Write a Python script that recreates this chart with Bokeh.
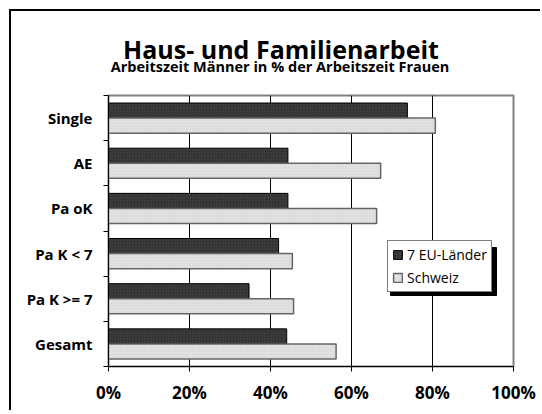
from bokeh.plotting import figure
from bokeh.layouts import column
from bokeh.models import (ColumnDataSource, FixedTicker, Legend, LegendItem, Label,
                          BoxAnnotation, PrintfTickFormatter, Range1d)
from bokeh.transform import dodge
from bokeh.embed import file_html
from bokeh.resources import INLINE

# ---- data ----
categories = ["Single", "AE", "Pa oK", "Pa K < 7", "Pa K >= 7", "Gesamt"]
eu7 = [73.8, 44.3, 44.3, 42.0, 34.7, 44.0]
schweiz = [80.7, 67.2, 66.2, 45.4, 45.7, 56.2]
series_names = ["7 EU-Länder", "Schweiz"]
x_ticks = [0, 20, 40, 60, 80, 100]
title_text = "Haus- und Familienarbeit"
subtitle_text = "Arbeitszeit Männer in % der Arbeitszeit Frauen"

FONT = "Open Sans"
W = 529
HEAD_H = 83
BL, BR = 97, 27          # left / right borders shared by both figures
FW = W - BL - BR         # frame width in pixels

# ---- header (title + subtitle), frame aligned with the chart frame ----
head = figure(width=W, height=HEAD_H, output_backend="svg", toolbar_location=None,
              title=None, x_range=Range1d(0, FW), y_range=Range1d(0, HEAD_H),
              x_axis_location=None, y_axis_location=None,
              min_border_left=BL, min_border_right=BR, min_border_top=0, min_border_bottom=0,
              outline_line_color=None)
head.grid.visible = False
head.border_fill_color = "white"
head.background_fill_color = "white"
head.add_layout(Label(x=172.5, y=45.3, y_units="screen", text=title_text, text_align="center",
                      text_baseline="alphabetic", text_font=FONT, text_font_style="bold",
                      text_font_size="25px", text_color="black"))
head.add_layout(Label(x=171.5, y=27.7, y_units="screen", text=subtitle_text, text_align="center",
                      text_baseline="alphabetic", text_font=FONT, text_font_style="bold",
                      text_font_size="14.5px", text_color="black"))

# ---- main bar chart ----
n = len(categories)
ypos = [n - 1 - i + 0.5 for i in range(n)]   # first category at top
src = ColumnDataSource(dict(cat=categories, y=ypos, eu7=eu7, ch=schweiz))

p = figure(width=W, height=316, output_backend="svg", toolbar_location=None,
           x_range=Range1d(0, 100), y_range=Range1d(0, n),
           min_border_left=BL, min_border_right=BR, min_border_top=1, min_border_bottom=44)
p.background_fill_color = "white"
p.border_fill_color = "white"
p.outline_line_color = "#808080"
p.outline_line_width = 2

r1 = p.hbar(y=dodge("y", 1/6, range=p.y_range), right="eu7", left=0, height=1/3, source=src,
            fill_color="#333333", line_color="black", line_width=1,
            hatch_pattern="dot", hatch_color="#4a4a4a", hatch_scale=3, hatch_weight=1)
r2 = p.hbar(y=dodge("y", -1/6, range=p.y_range), right="ch", left=0, height=1/3, source=src,
            fill_color="#e2e2e2", line_color="#666666", line_width=1.5,
            hatch_pattern="dot", hatch_color="#cfcfcf", hatch_scale=3, hatch_weight=1)

# x axis
p.xaxis.ticker = FixedTicker(ticks=x_ticks)
p.xaxis.formatter = PrintfTickFormatter(format="%d%%")
p.xaxis.major_tick_out = 5
p.xaxis.major_tick_in = 0
p.xaxis.minor_tick_line_color = None
p.xaxis.axis_line_color = "black"
p.xaxis.major_tick_line_color = "black"
p.xaxis.major_label_standoff = 9
p.xaxis.major_label_text_font = FONT
p.xaxis.major_label_text_font_style = "bold"
p.xaxis.major_label_text_font_size = "17px"
p.xaxis.major_label_text_color = "black"

# y axis: labels at category centres, tick marks at boundaries
p.yaxis.ticker = FixedTicker(ticks=ypos, minor_ticks=list(range(n + 1)))
p.yaxis.major_label_overrides = {y: c for y, c in zip(ypos, categories)}
p.yaxis.major_tick_line_color = None
p.yaxis.major_tick_out = 0
p.yaxis.major_tick_in = 0
p.yaxis.minor_tick_out = 5
p.yaxis.minor_tick_in = 0
p.yaxis.minor_tick_line_color = "black"
p.yaxis.axis_line_color = "black"
p.yaxis.major_label_standoff = 11
p.yaxis.major_label_text_font = FONT
p.yaxis.major_label_text_font_style = "bold"
p.yaxis.major_label_text_font_size = "15px"
p.yaxis.major_label_text_color = "black"

p.ygrid.grid_line_color = None
p.xgrid.ticker = FixedTicker(ticks=x_ticks[1:-1])
p.xgrid.grid_line_color = "black"
p.xgrid.grid_line_width = 1

# legend shadow
p.add_layout(BoxAnnotation(left=282, right=388, top=119, bottom=71,
                           left_units="screen", right_units="screen",
                           top_units="screen", bottom_units="screen",
                           fill_color="black", fill_alpha=1, line_color="black", line_alpha=1))

legend = Legend(items=[LegendItem(label=series_names[0], renderers=[r1]),
                       LegendItem(label=series_names[1], renderers=[r2])],
                location=(279, 74), orientation="vertical",
                label_text_font=FONT, label_text_font_size="14px", label_text_color="black",
                glyph_width=11, glyph_height=11, label_standoff=4, label_height=18,
                spacing=4, padding=4, margin=0,
                border_line_color="black", border_line_width=1,
                background_fill_color="white", background_fill_alpha=1)
p.add_layout(legend)

layout = column(head, p, spacing=0,
                styles={"margin-left": "9px", "margin-top": "9px",
                        "border-left": "2px solid black", "border-top": "2px solid black"})

open("out.html", "w").write(file_html(layout, INLINE))
